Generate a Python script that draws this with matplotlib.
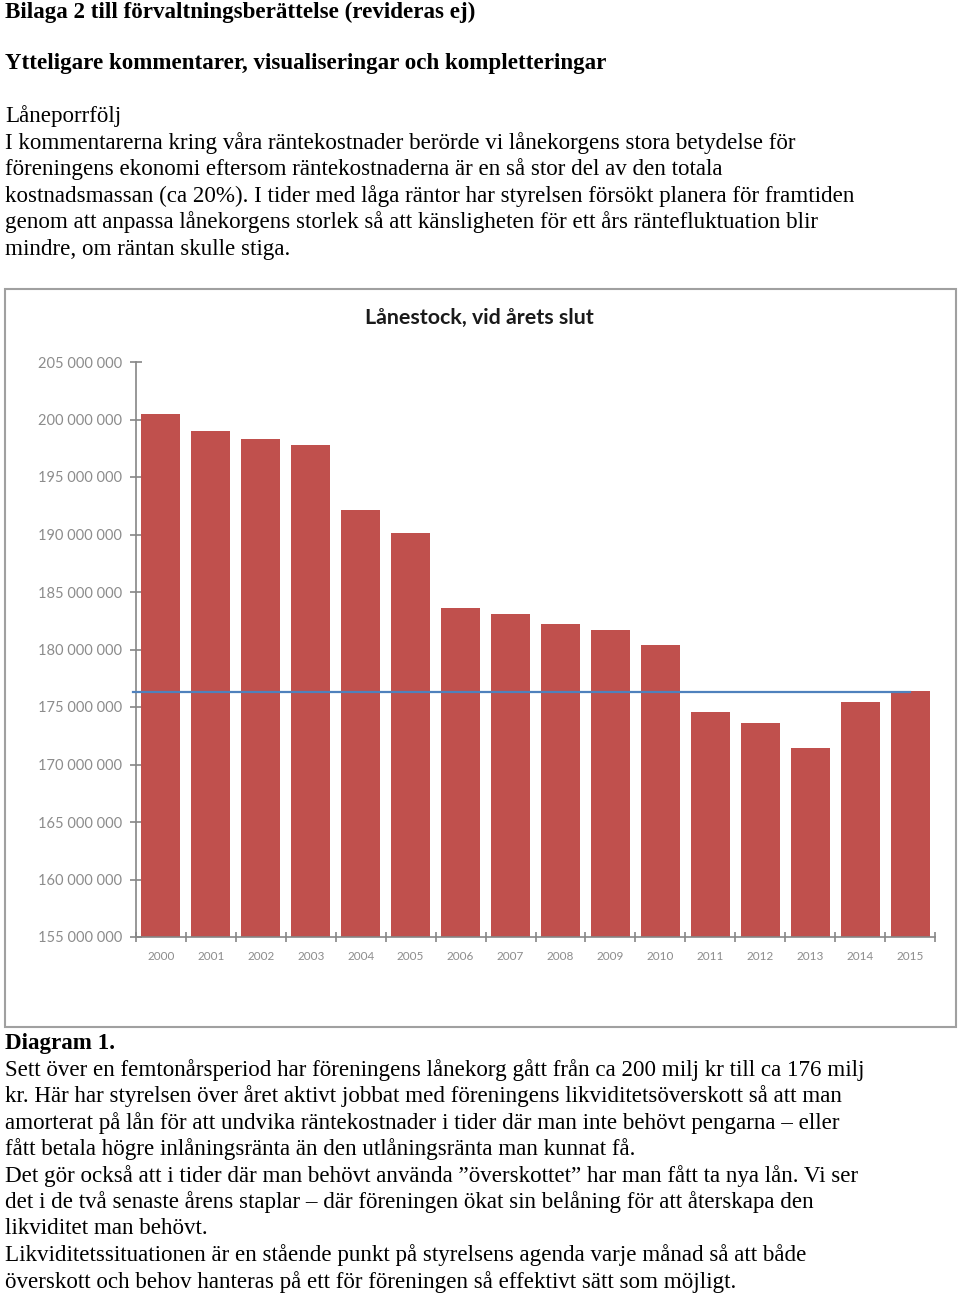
import matplotlib
matplotlib.use("Agg")
import matplotlib.pyplot as plt
from matplotlib.patches import Rectangle
from matplotlib.ticker import FuncFormatter, FixedLocator

# data
years = ["2000", "2001", "2002", "2003", "2004", "2005", "2006", "2007",
         "2008", "2009", "2010", "2011", "2012", "2013", "2014", "2015"]
loans = [200.5e6, 199.0e6, 198.3e6, 197.75e6, 192.1e6, 190.1e6, 183.6e6, 183.1e6,
         182.2e6, 181.7e6, 180.4e6, 174.6e6, 173.6e6, 171.4e6, 175.4e6, 176.4e6]
ref_level = 176.3e6
y_ticks = [155e6, 160e6, 165e6, 170e6, 175e6, 180e6, 185e6, 190e6, 195e6, 200e6, 205e6]

header1 = "Bilaga 2 till förvaltningsberättelse (revideras ej)"
header2 = "Ytteligare kommentarer, visualiseringar och kompletteringar"
intro = [
    "Låneporrfölj",
    "I kommentarerna kring våra räntekostnader berörde vi lånekorgens stora betydelse för",
    "föreningens ekonomi eftersom räntekostnaderna är en så stor del av den totala",
    "kostnadsmassan (ca 20%). I tider med låga räntor har styrelsen försökt planera för framtiden",
    "genom att anpassa lånekorgens storlek så att känsligheten för ett års räntefluktuation blir",
    "mindre, om räntan skulle stiga.",
]
caption = "Diagram 1."
outro = [
    "Sett över en femtonårsperiod har föreningens lånekorg gått från ca 200 milj kr till ca 176 milj",
    "kr. Här har styrelsen över året aktivt jobbat med föreningens likviditetsöverskott så att man",
    "amorterat på lån för att undvika räntekostnader i tider där man inte behövt pengarna – eller",
    "fått betala högre inlåningsränta än den utlåningsränta man kunnat få.",
    "Det gör också att i tider där man behövt använda ”överskottet” har man fått ta nya lån. Vi ser",
    "det i de två senaste årens staplar – där föreningen ökat sin belåning för att återskapa den",
    "likviditet man behövt.",
    "Likviditetssituationen är en stående punkt på styrelsens agenda varje månad så att både",
    "överskott och behov hanteras på ett för föreningen så effektivt sätt som möjligt.",
]

W, H = 960, 1295
fig = plt.figure(figsize=(W / 100, H / 100), dpi=100)
serif = "Liberation Serif"
body_size = 16.6


def fy(py):
    return 1 - py / H


fig.text(5 / W, fy(12), header1, family=serif, weight="bold", size=body_size, va="center")
fig.text(5 / W, fy(63), header2, family=serif, weight="bold", size=body_size, va="center")
for i, line in enumerate(intro):
    fig.text(5 / W, fy(116 + i * 26.6), line, family=serif, size=body_size, va="center")

fig.text(5 / W, fy(1043), caption, family=serif, weight="bold", size=body_size, va="center")
for i, line in enumerate(outro):
    fig.text(5 / W, fy(1070 + i * 26.5), line, family=serif, size=body_size, va="center")

# chart frame
fig.patches.append(Rectangle((5 / W, fy(1027)), 951 / W, 738 / H, transform=fig.transFigure,
                             fill=False, edgecolor="#a0a0a0", linewidth=1.5))
fig.text(479 / W, fy(318), "Lånestock, vid årets slut", family="Lato", weight="bold",
         size=15.4, ha="center", va="center", color="#1a1a1a")

ax = fig.add_axes([136 / W, fy(937), (935 - 136) / W, (937 - 362) / H])
x = list(range(len(years)))
ax.bar(x, loans, width=0.78, color="#c0504d", zorder=2)
ax.plot([-0.56, 15], [ref_level, ref_level], color="#4f81bd", linewidth=1.6, zorder=3,
        clip_on=False)

ax.set_xlim(-0.5, 15.5)
ax.set_ylim(155e6, 205e6)
ax.yaxis.set_major_locator(FixedLocator(y_ticks))
ax.yaxis.set_major_formatter(FuncFormatter(lambda v, p: f"{int(v):,}".replace(",", " ")))

ax.xaxis.set_major_locator(FixedLocator([i - 0.5 for i in range(len(years) + 1)]))
ax.set_xticklabels([])
ax.set_xticks(x, minor=True)
ax.set_xticklabels(years, minor=True)

for s in ["top", "right"]:
    ax.spines[s].set_visible(False)
for s in ["left", "bottom"]:
    ax.spines[s].set_color("#868686")
    ax.spines[s].set_linewidth(1.2)

ax.tick_params(axis="y", which="major", direction="inout", length=8, width=1.2, color="#868686",
               labelsize=10.5, labelcolor="#8c8c8c", pad=6)
ax.tick_params(axis="x", which="major", direction="inout", length=7, width=1.2, color="#868686")
ax.tick_params(axis="x", which="minor", length=0, labelsize=8.5, labelcolor="#8c8c8c", pad=10)
for lab in ax.get_yticklabels() + ax.get_xticklabels(minor=True):
    lab.set_family("Lato")

fig.savefig("out.png", dpi=100)
